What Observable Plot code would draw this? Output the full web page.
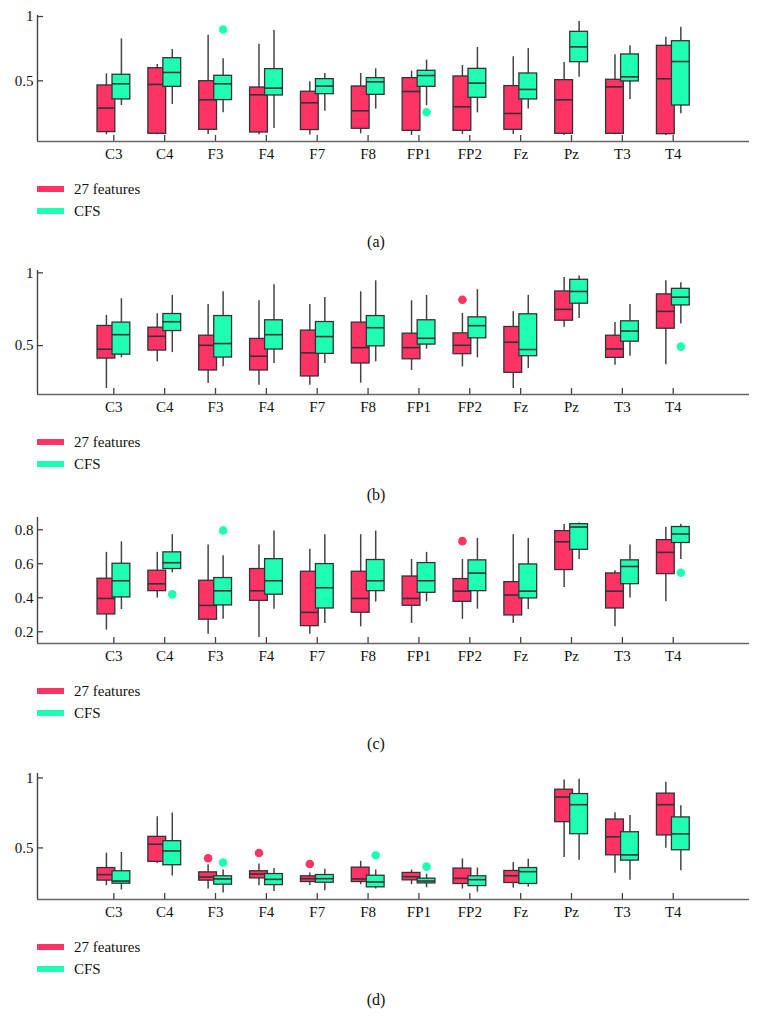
<!DOCTYPE html>
<html>
<head>
<meta charset="utf-8">
<script src="https://cdn.jsdelivr.net/npm/d3@7"></script>
<script src="https://cdn.jsdelivr.net/npm/@observablehq/plot@0.6"></script>
<style>
  html, body { margin: 0; padding: 0; background: #fff; }
  #page { position: relative; width: 760px; height: 1035px; font-family: "Liberation Serif", "DejaVu Serif", "Times New Roman", "Noto Serif", serif; color: #111; }
  .panel { position: absolute; left: 0; }
  .legrow { position: absolute; left: 37px; height: 20px; display: flex; align-items: center; font-size: 15px; }
  .sw { width: 27px; height: 6px; margin-right: 10px; }
  .cap { position: absolute; left: 0; width: 752px; text-align: center; font-size: 16px; }
  svg text { font-family: "Liberation Serif", "DejaVu Serif", "Times New Roman", "Noto Serif", serif; }
</style>
</head>
<body>
<div id="page"></div>
<script>
// ---------- data ----------
const categories = ["C3","C4","F3","F4","F7","F8","FP1","FP2","Fz","Pz","T3","T4"];
const seriesNames = ["27 features", "CFS"];
const seriesColors = ["#FF3366", "#1FFFB4"];
// each entry: [lower whisker, Q1, median, Q3, upper whisker] per category

const panelA_27 = [
  [0.080,0.101,0.288,0.464,0.554],[0.080,0.088,0.472,0.598,0.627],[0.083,0.119,0.352,0.497,0.855],
  [0.080,0.098,0.391,0.448,0.785],[0.078,0.117,0.329,0.415,0.492],[0.088,0.127,0.267,0.456,0.557],
  [0.075,0.111,0.417,0.521,0.575],[0.083,0.111,0.298,0.534,0.619],[0.083,0.119,0.246,0.459,0.687],
  [0.075,0.088,0.352,0.505,0.642],[0.080,0.088,0.453,0.508,0.702],[0.075,0.085,0.516,0.772,0.839]];
const panelA_CFS = [
  [0.308,0.355,0.477,0.547,0.826],[0.316,0.453,0.565,0.676,0.744],[0.251,0.350,0.477,0.539,0.671],
  [0.130,0.386,0.443,0.591,0.891],[0.264,0.396,0.459,0.513,0.557],[0.280,0.391,0.492,0.521,0.593],
  [0.306,0.453,0.541,0.578,0.661],[0.251,0.368,0.482,0.593,0.759],[0.280,0.355,0.433,0.557,0.751],
  [0.528,0.645,0.764,0.881,0.961],[0.355,0.495,0.531,0.705,0.772],[0.244,0.308,0.650,0.808,0.917]];
const panelA_outliers = [["F3","CFS",0.899],["FP1","CFS",0.256]];

const panelB_27 = [
  [0.205,0.411,0.475,0.635,0.708],[0.388,0.466,0.564,0.623,0.719],[0.240,0.329,0.502,0.568,0.783],
  [0.228,0.329,0.427,0.546,0.808],[0.228,0.288,0.450,0.603,0.783],[0.242,0.377,0.486,0.658,0.870],
  [0.329,0.406,0.486,0.582,0.808],[0.354,0.441,0.502,0.584,0.721],[0.205,0.313,0.523,0.628,0.733],
  [0.626,0.671,0.749,0.872,0.968],[0.365,0.416,0.477,0.568,0.658],[0.368,0.616,0.735,0.852,0.945]];
const panelB_CFS = [
  [0.416,0.438,0.575,0.658,0.822],[0.452,0.600,0.664,0.717,0.845],[0.354,0.418,0.514,0.703,0.870],
  [0.377,0.473,0.575,0.674,0.918],[0.377,0.443,0.562,0.662,0.831],[0.388,0.495,0.623,0.703,0.945],
  [0.475,0.507,0.550,0.674,0.845],[0.416,0.550,0.637,0.694,0.884],[0.342,0.427,0.473,0.715,0.845],
  [0.687,0.788,0.872,0.952,0.979],[0.427,0.527,0.600,0.667,0.783],[0.648,0.776,0.833,0.890,0.932]];
const panelB_outliers = [["FP2","27 features",0.815],["T4","CFS",0.493]];

const panelC_27 = [
  [0.210,0.302,0.396,0.512,0.667],[0.398,0.439,0.482,0.559,0.667],[0.186,0.271,0.355,0.500,0.710],
  [0.167,0.382,0.441,0.569,0.710],[0.186,0.233,0.314,0.553,0.686],[0.229,0.312,0.396,0.553,0.771],
  [0.249,0.353,0.396,0.525,0.625],[0.273,0.376,0.439,0.510,0.625],[0.249,0.296,0.416,0.492,0.771],
  [0.461,0.563,0.729,0.792,0.831],[0.229,0.337,0.439,0.543,0.559],[0.376,0.539,0.667,0.739,0.814]];
const panelC_CFS = [
  [0.331,0.402,0.500,0.600,0.729],[0.547,0.569,0.606,0.667,0.771],[0.273,0.355,0.441,0.516,0.647],
  [0.333,0.418,0.500,0.627,0.792],[0.249,0.337,0.459,0.598,0.771],[0.375,0.439,0.500,0.622,0.792],
  [0.376,0.429,0.500,0.604,0.667],[0.333,0.439,0.545,0.620,0.749],[0.331,0.396,0.439,0.596,0.749],
  [0.625,0.682,0.816,0.833,0.839],[0.398,0.480,0.584,0.620,0.710],[0.625,0.722,0.775,0.816,0.833]];
const panelC_outliers = [["C4","CFS",0.420],["F3","CFS",0.796],["FP2","27 features",0.733],["T4","CFS",0.547]];

const panelD_27 = [
  [0.230,0.266,0.309,0.356,0.462],[0.388,0.400,0.526,0.579,0.722],[0.206,0.266,0.292,0.325,0.380],
  [0.230,0.282,0.313,0.333,0.385],[0.232,0.256,0.280,0.297,0.321],[0.237,0.256,0.278,0.359,0.404],
  [0.237,0.268,0.294,0.321,0.342],[0.206,0.242,0.282,0.352,0.421],[0.213,0.249,0.301,0.335,0.395],
  [0.431,0.684,0.864,0.916,0.986],[0.318,0.447,0.579,0.703,0.751],[0.498,0.589,0.809,0.888,0.969]];
const panelD_CFS = [
  [0.199,0.244,0.263,0.333,0.467],[0.299,0.376,0.478,0.548,0.749],[0.177,0.237,0.278,0.297,0.342],
  [0.189,0.234,0.275,0.313,0.352],[0.194,0.251,0.280,0.306,0.347],[0.206,0.218,0.256,0.301,0.342],
  [0.215,0.246,0.263,0.280,0.311],[0.184,0.227,0.273,0.297,0.356],[0.220,0.242,0.330,0.356,0.419],
  [0.411,0.598,0.809,0.885,0.990],[0.268,0.409,0.450,0.612,0.732],[0.337,0.483,0.600,0.718,0.801]];
const panelD_outliers = [["F3","27 features",0.426],["F3","CFS",0.395],["F4","27 features",0.464],
  ["F7","27 features",0.385],["F8","CFS",0.447],["FP1","CFS",0.366]];

const yTicksA = [0.5, 1], yTicksB = [0.5, 1], yTicksC = [0.2, 0.4, 0.6, 0.8], yTicksD = [0.5, 1];
const captions = ["(a)", "(b)", "(c)", "(d)"];

// ---------- layout ----------
const panels = [
  {s27: panelA_27, sCFS: panelA_CFS, out: panelA_outliers, ticks: yTicksA, domain: [0.028, 1.008], top: 5,   plotH: 126},
  {s27: panelB_27, sCFS: panelB_CFS, out: panelB_outliers, ticks: yTicksB, domain: [0.164, 1.016], top: 260, plotH: 124},
  {s27: panelC_27, sCFS: panelC_CFS, out: panelC_outliers, ticks: yTicksC, domain: [0.131, 0.872], top: 507, plotH: 126},
  {s27: panelD_27, sCFS: panelD_CFS, out: panelD_outliers, ticks: yTicksD, domain: [0.131, 1.032], top: 763, plotH: 126}
];
// box extents relative to category position (x units), per series
const boxX = {"27 features": [-0.32, 0.03, -0.145], "CFS": [-0.025, 0.325, 0.15]};
const xDomain = [-0.5, 13.5];
const W = 760, mL = 37, mR = 11, mT = 10, mB = 30, tickLen = 6;

const page = document.getElementById("page");

panels.forEach((p, k) => {
  const rows = [];
  [["27 features", p.s27], ["CFS", p.sCFS]].forEach(([name, arr]) => {
    arr.forEach((v, i) => {
      const pos = i + 1, b = boxX[name];
      rows.push({series: name, cat: categories[i], x1: pos + b[0], x2: pos + b[1], xc: pos + b[2],
                 lo: v[0], q1: v[1], med: v[2], q3: v[3], hi: v[4]});
    });
  });
  const outs = p.out.map(([cat, series, value]) => ({
    series, value, xc: categories.indexOf(cat) + 1 + boxX[series][2]
  }));
  const color = {domain: seriesNames, range: seriesColors};
  const bySeries = s => rows.filter(r => r.series === s);
  // tick length in data units (inward ticks)
  const xPerPx = (xDomain[1] - xDomain[0]) / (W - mL - mR);
  const yPerPx = (p.domain[1] - p.domain[0]) / p.plotH;
  const xTickPos = d3.range(1, 13);

  const marks = [
    Plot.axisY({ticks: p.ticks, tickFormat: d => String(d), tickSize: 0, tickPadding: 4,
                label: null, fontSize: 15, fill: "#111"}),
    Plot.axisX({ticks: xTickPos, tickFormat: i => categories[i - 1], tickSize: 0, tickPadding: 7,
                label: null, fontSize: 15, fill: "#111"}),
    // axis lines
    Plot.ruleX([xDomain[0]], {x: d => d, y1: p.domain[0], y2: p.domain[1], stroke: "#444", strokeWidth: 1.4}),
    Plot.ruleY([p.domain[0]], {y: d => d, x1: xDomain[0], x2: xDomain[1], stroke: "#666", strokeWidth: 1.6}),
    // inward ticks
    Plot.ruleY(p.ticks, {y: d => d, x1: xDomain[0], x2: xDomain[0] + tickLen * xPerPx, stroke: "#444", strokeWidth: 1.3}),
    Plot.ruleX(xTickPos, {x: d => d, y1: p.domain[0], y2: p.domain[0] + tickLen * yPerPx, stroke: "#444", strokeWidth: 1.3}),
    // whiskers
    Plot.ruleX(rows, {x: "xc", y1: "lo", y2: "hi", stroke: "#444", strokeWidth: 1.5})
  ];
  seriesNames.forEach(s => {
    marks.push(Plot.rect(bySeries(s), {x1: "x1", x2: "x2", y1: "q1", y2: "q3", fill: "series", stroke: "#333", strokeWidth: 1.3}));
    marks.push(Plot.ruleY(bySeries(s), {y: "med", x1: "x1", x2: "x2", stroke: "#333", strokeWidth: 1.6}));
  });
  marks.push(Plot.dot(outs, {x: "xc", y: "value", r: 4.3, fill: "series", stroke: "none"}));

  const chart = Plot.plot({
    width: W, height: mT + p.plotH + mB,
    marginLeft: mL, marginRight: mR, marginTop: mT, marginBottom: mB,
    x: {domain: xDomain},
    y: {domain: p.domain},
    color,
    style: {fontFamily: "'Liberation Serif', 'DejaVu Serif', 'Times New Roman', serif", fontSize: "15px", background: "#fff", color: "#111", overflow: "visible"},
    marks
  });
  const wrap = document.createElement("div");
  wrap.className = "panel";
  wrap.style.top = p.top + "px";
  wrap.appendChild(chart);
  page.appendChild(wrap);

  const axisBottom = p.top + mT + p.plotH;
  seriesNames.forEach((s, j) => {
    const row = document.createElement("div");
    row.className = "legrow";
    row.style.top = (axisBottom + 48 + j * 22 - 10) + "px";
    const sw = document.createElement("div");
    sw.className = "sw";
    sw.style.background = seriesColors[j];
    const t = document.createElement("span");
    t.textContent = s;
    row.appendChild(sw); row.appendChild(t);
    page.appendChild(row);
  });
  const cap = document.createElement("div");
  cap.className = "cap";
  cap.style.top = (axisBottom + 102 - 10) + "px";
  cap.textContent = captions[k];
  page.appendChild(cap);
});
</script>
</body>
</html>
